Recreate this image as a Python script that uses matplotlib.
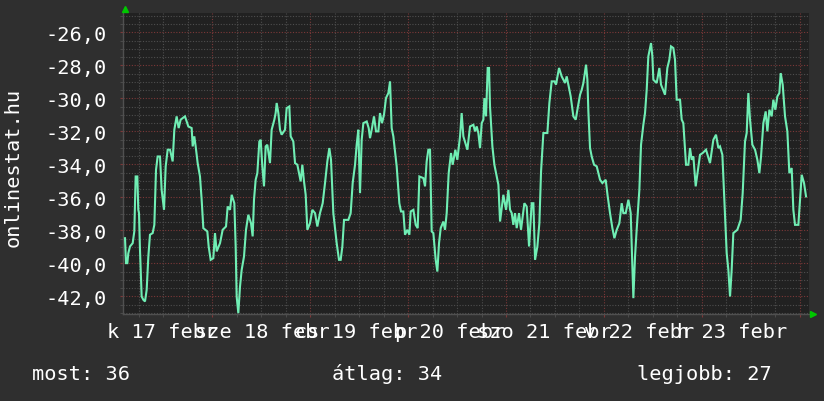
import matplotlib
matplotlib.use('Agg')
import matplotlib.pyplot as plt
from matplotlib.ticker import MultipleLocator, FuncFormatter

# hours since Feb 16 00:00
hours = [
    2.60, 2.84, 3.17, 3.41, 3.82, 4.48, 4.88, 5.21, 5.62, 5.86, 6.03, 6.27, 6.68, 7.09, 7.50, 7.91,
    8.32, 8.72, 9.38, 9.79, 10.20, 10.60, 11.18, 11.58, 12.16, 12.57, 13.06, 13.63, 14.28, 14.69,
    15.26, 15.75, 16.24, 17.30, 18.12, 18.94, 19.19, 19.59, 19.92, 20.41, 20.98, 21.39, 21.80,
    22.78, 23.11, 23.60, 24.25, 24.66, 25.07, 25.89, 26.54, 27.36, 27.77, 28.34, 28.75, 29.40,
    29.73, 29.97, 30.38, 30.79, 31.20, 31.77, 32.26, 32.83, 33.49, 33.89, 34.22, 34.63, 35.04,
    35.53, 35.86, 36.26, 36.67, 37.08, 37.49, 38.14, 38.55, 39.21, 39.53, 39.78, 40.19, 40.60,
    41.00, 41.82, 42.23, 42.88, 43.21, 43.86,
    44.28, 44.85, 45.26, 45.66, 46.07, 46.48, 46.89, 47.30, 47.95, 48.53, 49.18, 49.75, 50.40,
    51.06, 51.63, 52.20, 52.69, 53.10, 53.67, 54.49, 55.06, 55.47, 55.88, 56.29, 57.35, 57.92,
    58.41, 58.99, 59.39, 59.80, 60.21, 60.62, 61.03, 61.85, 62.34, 62.66, 63.07, 63.64, 64.13,
    64.71, 65.11, 65.60, 66.09, 66.58, 67.16, 67.57, 67.97, 68.38, 69.20, 69.85, 70.26, 70.83,
    71.24, 71.81, 72.31, 72.63, 73.29, 73.86, 74.35, 74.76, 75.74, 76.15, 76.55, 76.96, 77.37,
    77.78, 78.19, 78.76, 79.17, 79.58, 79.99, 80.64, 81.05, 81.46, 81.95, 82.52, 82.93, 83.58,
    84.07, 84.73, 85.13, 85.54,
    86.53, 87.18, 88.00, 88.41, 88.82, 89.22, 89.63, 90.04, 90.45, 90.70, 91.10, 91.51, 91.84,
    92.08, 92.66, 93.15, 93.72, 94.13, 94.54, 95.35, 96.01, 96.58, 96.99, 97.40, 97.80, 98.21,
    98.62, 99.19, 99.68, 100.50, 101.07, 101.65, 102.30, 102.71, 103.12, 103.69, 104.18, 104.59,
    105.16, 106.14, 106.63, 107.20, 107.86, 108.26, 109.00, 109.65, 110.47, 110.88, 111.29,
    111.86, 112.51, 113.09, 113.50, 114.15, 114.56, 114.97, 115.62, 115.95, 116.19, 116.60,
    117.01, 117.58, 118.24, 119.05, 119.62, 120.44, 120.93, 121.50, 122.08, 122.57, 123.14,
    123.79, 124.36, 124.77, 125.35, 126.00, 126.57,
    127.22, 127.63, 128.03, 128.69, 129.10, 129.67, 130.08, 130.49, 130.89, 131.55, 131.88,
    132.12, 132.94, 133.59, 134.00, 134.98, 135.55, 136.04, 136.45, 137.02, 137.43, 137.84,
    138.66, 139.07, 139.47, 140.13, 140.70, 141.11, 141.52, 141.93, 142.50, 142.99, 143.56,
    144.21, 145.03, 146.01, 146.83, 147.48, 148.06, 148.46, 149.04, 149.53, 150.10, 150.51,
    150.92, 151.32, 151.73, 152.71, 153.53, 154.02, 154.59, 155.00, 155.41, 155.82, 156.39,
    157.05, 157.62, 158.11, 158.52, 159.09, 159.66, 160.07, 160.56, 161.13, 161.54, 162.03,
    162.52, 163.01, 163.34, 163.83, 164.40, 164.97, 165.46, 166.03, 166.44, 166.85, 167.67,
    168.08, 168.49, 169.06, 169.55,
]
values = [
    -38.47, -39.98, -39.98, -39.38, -38.97, -38.77, -38.06, -34.73, -34.73, -36.75, -36.95, -39.17,
    -42.00, -42.20, -42.30, -41.60, -39.58, -38.26, -38.16, -37.66, -34.33, -33.52, -33.52, -35.54,
    -36.75, -34.12, -33.11, -33.11, -33.82, -31.90, -31.09, -31.80, -31.29, -31.09, -31.70, -31.80,
    -32.91, -32.30, -32.91, -33.92, -34.73, -36.14, -37.86, -38.06, -38.97, -39.78, -39.68, -38.16,
    -39.27, -38.77, -37.96, -37.76, -36.55, -36.75, -35.84, -36.35, -38.97, -42.00, -43.01, -41.40,
    -40.39, -39.58, -37.96, -37.05, -37.56, -38.36, -36.14, -34.93, -34.53, -32.61, -32.51, -34.12,
    -35.33, -32.91, -32.81, -33.92, -31.90, -31.29, -30.89, -30.28, -30.89, -31.90, -32.20, -31.90,
    -30.59, -30.49, -32.30, -32.61,
    -33.92, -34.02, -34.53, -35.03, -34.02, -35.03, -35.84, -37.96, -37.56, -36.75, -36.95, -37.76,
    -36.95, -36.35, -35.13, -33.82, -33.01, -33.72, -36.95, -38.77, -39.78, -39.78, -38.97, -37.36,
    -37.36, -36.95, -35.13, -34.02, -32.81, -31.90, -35.74, -32.51, -31.50, -31.40, -31.80, -32.41,
    -31.90, -31.09, -32.00, -32.00, -30.89, -31.50, -30.99, -29.98, -29.68, -28.97, -31.80, -32.30,
    -34.12, -36.35, -36.85, -36.85, -38.26, -37.96, -38.26, -36.85, -36.75, -37.66, -37.86, -34.73,
    -34.83, -35.33, -33.82, -33.11, -33.11, -38.06, -38.16, -39.78, -40.49, -38.77, -37.86, -37.46,
    -37.96, -36.95, -34.53, -33.31, -34.02, -33.11, -33.72, -32.30, -30.89, -32.30,
    -33.11, -31.70, -31.60, -32.00, -31.70, -32.10, -33.01, -31.50, -31.29, -29.98, -31.09, -28.16,
    -28.16, -30.49, -32.91, -34.02, -34.73, -35.23, -37.46, -35.84, -36.75, -35.54, -36.75, -36.95,
    -37.66, -36.95, -37.86, -36.95, -37.96, -36.35, -36.55, -38.97, -36.35, -36.35, -39.78, -38.97,
    -37.56, -34.43, -32.10, -32.10, -30.28, -28.97, -28.97, -29.17, -28.16, -28.67, -29.07, -28.67,
    -29.17, -29.88, -31.09, -31.29, -30.69, -29.78, -29.48, -29.07, -27.96, -28.87, -30.79, -33.01,
    -33.52, -34.02, -34.12, -34.93, -35.13, -34.93, -35.94, -36.95, -37.86, -38.47, -37.96, -37.56,
    -36.35, -36.95, -36.95, -36.14, -36.95,
    -42.10, -39.58, -37.96, -35.54, -32.81, -31.60, -30.89, -29.48, -27.46, -26.65, -27.46, -28.87,
    -29.07, -28.16, -29.17, -29.78, -28.16, -27.66, -26.85, -26.95, -27.66, -30.08, -30.08, -31.29,
    -31.50, -34.02, -34.02, -33.01, -33.72, -33.52, -35.33, -34.43, -33.42, -33.31, -33.11, -33.92,
    -32.51, -32.20, -33.01, -32.91, -33.42, -36.14, -39.38, -40.39, -42.00, -40.39, -38.16, -37.96,
    -37.36, -35.74, -32.61, -32.10, -29.68, -31.29, -32.81, -33.11, -33.72, -34.53, -33.52, -31.50,
    -30.79, -32.00, -30.69, -31.09, -30.08, -30.69, -29.88, -29.68, -28.47, -29.17, -31.09, -32.00,
    -34.53, -34.22, -36.75, -37.66, -37.66, -36.14, -34.63, -35.13, -35.94,
]

day_labels = ['k 17 febr', 'sze 18 febr', 'cs 19 febr', 'p 20 febr',
              'szo 21 febr', 'v 22 febr', 'h 23 febr']
label_hours = [11.7, 36.2, 59.2, 82.3, 105.3, 128.6, 151.4]

legend_texts = ['most: 36', 'átlag: 34', 'legjobb: 27']
legend_x = [32, 332, 637]

BG = '#2f2f2f'
CANVAS = '#212121'
LINE = '#70eeb4'
MONO = 'DejaVu Sans Mono'
FS = 14.6

W, H = 824, 402
fig = plt.figure(figsize=(W / 100, H / 100), dpi=100, facecolor=BG)
left, right, top, bottom = 123.5, 809.5, 14, 315
ax = fig.add_axes([left / W, 1 - bottom / H, (right - left) / W, (bottom - top) / H])
ax.set_facecolor(CANVAS)

ax.plot(hours, values, color=LINE, lw=1.5, solid_joinstyle='miter', zorder=3)

ax.set_xlim(2.23, 170.4)
ax.set_ylim(-43.06, -24.83)

ax.xaxis.set_major_locator(MultipleLocator(24))
ax.xaxis.set_minor_locator(MultipleLocator(6))
ax.yaxis.set_major_locator(MultipleLocator(2))
ax.yaxis.set_minor_locator(MultipleLocator(0.5))
ax.yaxis.set_major_formatter(FuncFormatter(lambda v, _: f'{v:.1f}'.replace('.', ',')))
ax.xaxis.set_major_formatter(FuncFormatter(lambda v, _: ''))

ax.set_axisbelow(True)
ax.grid(which='minor', color='#4e4e4e', linestyle=(0, (1, 1.5)), lw=0.8)
ax.grid(which='major', color='#7c3838', linestyle=(0, (1, 1.5)), lw=0.8)

for s in ['top', 'right']:
    ax.spines[s].set_visible(False)
for s in ['left', 'bottom']:
    ax.spines[s].set_color('#505050')
    ax.spines[s].set_linewidth(1)

ax.tick_params(axis='y', which='major', length=2, color='#7c3838', pad=10,
               labelcolor='white', labelsize=FS)
ax.tick_params(axis='y', which='minor', length=2, color='#505050')
ax.tick_params(axis='x', which='major', length=2, color='#7c3838')
ax.tick_params(axis='x', which='minor', length=2, color='#505050')
for lab in ax.get_yticklabels():
    lab.set_family(MONO)

xt = ax.get_xaxis_transform()
for txt, h in zip(day_labels, label_hours):
    ax.text(h, -0.0764, txt, transform=xt, ha='center', va='baseline',
            color='white', fontsize=FS, family=MONO)

fig.text(13 / W, 1 - 167 / H, 'onlinestat.hu', rotation=90, ha='center', va='center',
         color='white', fontsize=FS, family=MONO)

for txt, x in zip(legend_texts, legend_x):
    fig.text(x / W, 1 - 380 / H, txt, ha='left', va='baseline',
             color='white', fontsize=FS, family=MONO)

# rrdtool-style axis arrows
ax.plot([0.002], [1.012], marker='^', ms=5, color='#00c800', transform=ax.transAxes,
        clip_on=False, zorder=5)
ax.plot([1.005], [0.001], marker='>', ms=5, color='#00c800', transform=ax.transAxes,
        clip_on=False, zorder=5)

fig.savefig('out.png', dpi=100, facecolor=BG)
